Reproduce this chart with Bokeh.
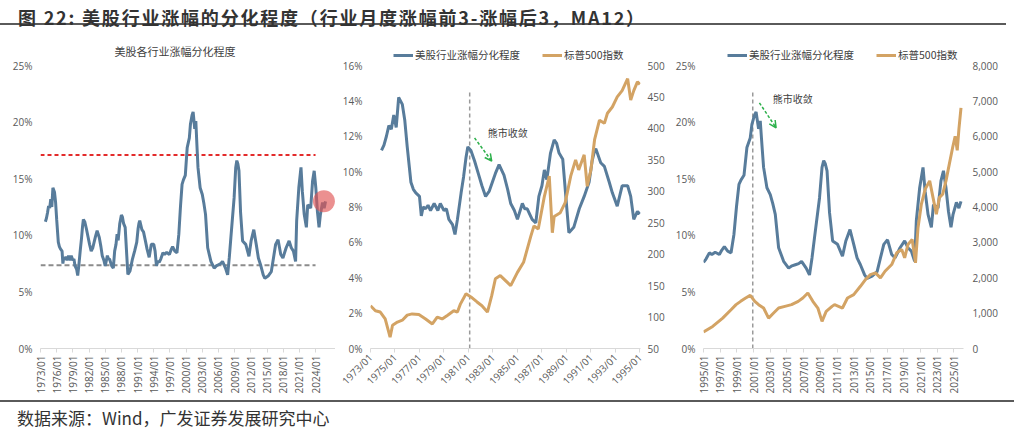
import math
from bokeh.plotting import figure
from bokeh.layouts import column, row
from bokeh.models import (Range1d, LinearAxis, FixedTicker, PrintfTickFormatter,
                          NumeralTickFormatter, Legend, LegendItem, Label, Arrow,
                          OpenHead, Div)
from bokeh.embed import file_html
from bokeh.resources import INLINE

# 行业月度涨幅前3-涨幅后3 的分化程度 (MA12, %)
div_years = [
    1973.9, 1974.1, 1974.3, 1974.5, 1974.7, 1974.9, 1975.1, 1975.3, 1975.45, 1975.6,
    1975.8, 1976.0, 1976.3, 1976.5, 1976.7, 1977.0, 1977.15, 1977.3, 1977.5, 1977.7,
    1977.9, 1978.2, 1978.5, 1978.7, 1979.0, 1979.2, 1979.4, 1979.7, 1979.9, 1980.1,
    1980.4, 1980.6, 1980.8, 1980.95, 1981.2, 1981.5, 1981.8, 1982.1, 1982.4, 1982.7,
    1983.0, 1983.2, 1983.5, 1983.9, 1984.2, 1984.45, 1984.75, 1985.0, 1985.4, 1985.6,
    1985.8, 1986.2, 1986.5, 1986.75, 1987.0, 1987.2, 1987.4, 1987.7, 1988.0, 1988.2,
    1988.4, 1988.7, 1988.95, 1989.2, 1989.6, 1990.05, 1990.45, 1990.85, 1991.1, 1991.25,
    1991.4, 1991.8, 1992.1, 1992.5, 1992.75, 1993.15, 1993.55, 1994.0, 1994.25, 1994.5,
    1994.8, 1995.0, 1995.3, 1995.7, 1996.0, 1996.4, 1996.9, 1997.2, 1997.5, 1997.9,
    1998.3, 1998.65, 1998.95, 1999.25, 1999.5, 1999.85, 2000.2, 2000.6, 2000.8, 2001.1,
    2001.3, 2001.6, 2001.8, 2002.0, 2002.2, 2002.6, 2003.0, 2003.3, 2003.6, 2004.0,
    2004.3, 2004.6, 2005.2, 2005.6, 2006.0, 2006.4, 2006.75, 2007.3, 2007.7, 2008.0,
    2008.3, 2008.9, 2009.2, 2009.4, 2009.6, 2009.8, 2010.1, 2010.47, 2011.06, 2011.65,
    2012.05, 2012.55, 2013.0, 2013.4, 2013.8, 2014.3, 2014.6, 2015.2, 2015.8, 2016.2,
    2016.6, 2017.05, 2017.55, 2017.95, 2018.55, 2019.1, 2019.5, 2019.9, 2020.3, 2020.5,
    2020.9, 2021.3, 2021.55, 2021.9, 2022.3, 2022.55, 2023.1, 2023.45, 2023.75, 2024.05,
    2024.35, 2024.65, 2024.9, 2025.3, 2025.6, 2025.85,
]
div_values = [
    11.2, 11.5, 12.0, 12.6, 12.4, 13.2, 12.5, 14.2, 14.0, 13.8,
    12.9, 11.4, 9.4, 9.0, 8.8, 8.6, 7.5, 8.0, 7.9, 8.1,
    7.8, 8.2, 7.8, 8.2, 7.8, 7.9, 7.3, 7.0, 6.45, 7.3,
    8.8, 9.7, 10.8, 11.4, 11.2, 10.6, 9.9, 9.2, 8.6, 8.9,
    9.5, 9.9, 10.4, 9.8, 9.0, 8.2, 7.8, 7.3, 8.2, 7.9,
    7.9, 7.3, 7.1, 8.6, 9.2, 10.1, 9.55, 11.05, 11.8, 11.6,
    11.05, 10.7, 8.6, 6.55, 6.85, 7.9, 8.6, 9.4, 10.6, 11.05,
    11.3, 10.5, 10.3, 9.4, 8.8, 8.05, 9.2, 9.2, 8.6, 7.3,
    7.75, 7.6, 7.9, 8.45, 8.3, 8.5, 8.3, 8.7, 9.0, 8.6,
    8.45, 10.1, 12.5, 14.5, 14.9, 15.3, 17.75, 18.6, 19.8, 20.6,
    20.9, 19.4, 20.1, 18.0, 16.0, 14.2, 13.6, 12.8, 11.85, 8.9,
    8.3, 7.7, 7.1, 7.3, 7.4, 7.5, 7.7, 7.1, 6.5, 8.0,
    9.8, 13.3, 16.0, 16.6, 16.3, 15.7, 12.0, 9.5, 9.2, 8.15,
    9.5, 10.5, 9.2, 8.0, 7.4, 6.5, 6.2, 6.4, 6.8, 8.0,
    9.2, 9.6, 8.3, 8.0, 8.9, 9.5, 8.9, 8.6, 7.7, 11.3,
    14.2, 16.0, 13.9, 11.85, 10.7, 12.7, 12.4, 14.8, 15.7, 14.2,
    12.1, 10.7, 11.85, 12.9, 12.4, 13.0,
]

# 标普500指数
spx_years = [
    1973.0, 1973.4, 1973.8, 1974.2, 1974.6, 1974.8, 1975.2, 1975.6, 1976.0, 1976.4,
    1976.95, 1977.5, 1978.05, 1978.45, 1978.85, 1979.3, 1979.8, 1980.1, 1980.35, 1980.8,
    1981.2, 1981.7, 1982.1, 1982.55, 1982.9, 1983.2, 1983.6, 1984.45, 1985.0, 1985.5,
    1986.1, 1986.35, 1986.7, 1987.2, 1987.6, 1987.85, 1988.0, 1988.5, 1988.9, 1989.35,
    1989.75, 1990.0, 1990.45, 1990.7, 1991.0, 1991.3, 1991.7, 1992.1, 1992.35, 1992.75,
    1993.15, 1993.55, 1994.0, 1994.25, 1994.5, 1994.8, 1995.0, 1996.1, 1997.3, 1998.3,
    1998.9, 1999.45, 2000.05, 2000.6, 2001.15, 2001.6, 2002.2, 2002.8, 2003.4, 2004.0,
    2004.75, 2005.55, 2006.35, 2006.9, 2007.5, 2008.1, 2008.7, 2009.2, 2009.7, 2010.4,
    2010.7, 2011.65, 2012.25, 2013.0, 2013.8, 2014.4, 2015.0, 2015.6, 2016.2, 2016.75,
    2017.55, 2018.15, 2018.75, 2019.1, 2019.5, 2020.0, 2020.4, 2020.7, 2021.1, 2021.55,
    2022.1, 2022.5, 2022.9, 2023.25, 2023.65, 2024.05, 2024.45, 2024.85, 2025.15, 2025.4,
    2025.6, 2025.85,
]
spx_values = [
    118, 110, 108, 97, 68, 87, 92, 95, 103, 105,
    104, 97, 89, 100, 97, 103, 110, 108, 121, 137,
    132, 124, 118, 108, 134, 161, 166, 150, 171, 187,
    229, 245, 240, 292, 324, 234, 260, 266, 282, 324,
    350, 334, 358, 308, 334, 382, 413, 408, 424, 434,
    450, 460, 479, 445, 460, 474, 470, 624, 860, 1097,
    1240, 1333, 1427, 1503, 1333, 1240, 1144, 860, 1002, 1144,
    1191, 1240, 1333, 1427, 1569, 1333, 1144, 766, 1050, 1191,
    1240, 1144, 1427, 1522, 1759, 1948, 2090, 2137, 1995, 2184,
    2373, 2704, 2798, 2562, 2942, 3084, 2420, 3413, 4076, 4502,
    4738, 4264, 3793, 4264, 4360, 4738, 5211, 5682, 6000, 5600,
    6200, 6800,
]

p1_tick_labels = ["1973/01", "1976/01", "1979/01", "1982/01", "1985/01", "1988/01",
                  "1991/01", "1994/01", "1997/01", "2000/01", "2003/01", "2006/01",
                  "2009/01", "2012/01", "2015/01", "2018/01", "2021/01", "2024/01"]
p2_tick_labels = ["1973/01", "1975/01", "1977/01", "1979/01", "1981/01", "1983/01",
                  "1985/01", "1987/01", "1989/01", "1991/01", "1993/01", "1995/01"]
p3_tick_labels = ["1995/01", "1997/01", "1999/01", "2001/01", "2003/01", "2005/01",
                  "2007/01", "2009/01", "2011/01", "2013/01", "2015/01", "2017/01",
                  "2019/01", "2021/01", "2023/01", "2025/01"]

upper_band = 17.1   # 红色虚线
lower_band = 7.35   # 灰色虚线

FONT = "Noto Sans CJK SC"
NUM_FONT = "Open Sans"
BLUE = "#587C9B"
GOLD = "#D3A364"
GREY = "#595959"
AXIS = "#D9D9D9"
GREEN = "#2DB04B"
FIG_H = 364
TOP, BOTTOM = 12, 50
FRAME_H = FIG_H - TOP - BOTTOM
TICK_SPAN = 283          # pixels between the lowest and highest y tick
HEAD = FRAME_H / TICK_SPAN   # extra head room above the top tick (legend lives there)


def years_of(labels):
    return [int(s[:4]) for s in labels]


def window(xs, ys, a, b):
    keep = [(x, y) for x, y in zip(xs, ys) if a <= x <= b]
    return [k[0] for k in keep], [k[1] for k in keep]


def style_y(ax, ticks, fmt, standoff):
    ax.ticker = FixedTicker(ticks=ticks)
    ax.formatter = fmt
    ax.axis_line_color = None
    ax.major_tick_line_color = None
    ax.major_tick_out = 0
    ax.minor_tick_line_color = None
    ax.major_label_standoff = standoff
    ax.major_label_text_font = NUM_FONT
    ax.major_label_text_font_size = "10px"
    ax.major_label_text_color = GREY


def make_fig(width, xr, ymax, left, right, tick_labels, yticks, orient):
    p = figure(width=width, height=FIG_H, x_range=Range1d(*xr),
               y_range=Range1d(0, ymax * HEAD),
               output_backend="svg", toolbar_location=None, tools="",
               min_border_left=left, min_border_right=right,
               min_border_top=TOP, min_border_bottom=BOTTOM)
    p.xgrid.visible = False
    p.ygrid.visible = False
    p.outline_line_color = None
    xa = p.xaxis[0]
    xa.ticker = FixedTicker(ticks=years_of(tick_labels))
    xa.formatter = PrintfTickFormatter(format="%d/01")
    xa.axis_line_color = AXIS
    xa.major_tick_line_color = AXIS
    xa.major_tick_out = 4
    xa.major_tick_in = 0
    xa.minor_tick_line_color = None
    xa.major_label_orientation = orient
    xa.major_label_standoff = 3
    xa.major_label_text_font = NUM_FONT
    xa.major_label_text_font_size = "10px"
    xa.major_label_text_color = GREY
    style_y(p.yaxis[0], yticks, PrintfTickFormatter(format="%d%%"), 8)
    return p


def add_legend(p, r_div, r_spx, x_off):
    legend = Legend(items=[LegendItem(label="美股行业涨幅分化程度", renderers=[r_div]),
                           LegendItem(label="标普500指数", renderers=[r_spx])],
                    orientation="horizontal", location=(x_off, TICK_SPAN + 3),
                    border_line_color=None, background_fill_alpha=0,
                    label_text_font=FONT, label_text_font_size="10.5px",
                    label_text_color="#404040", glyph_width=20, glyph_height=12,
                    label_standoff=2, spacing=22, padding=0, margin=0)
    p.add_layout(legend)


def add_note(p, tx, ty, ax0, ay0, ax1, ay1):
    p.add_layout(Label(x=tx, y=ty, text="熊市收敛", text_font=FONT, text_font_size="10px",
                       text_color="#404040", text_align="center", text_baseline="middle"))
    p.add_layout(Arrow(end=OpenHead(size=7, line_color=GREEN, line_width=1.5),
                       x_start=ax0, y_start=ay0, x_end=ax1, y_end=ay1,
                       line_color=GREEN, line_width=1.5, line_dash="3 2"))


# ---- 左图：全样本 ----
p1 = make_fig(335, (1973, 2027.7), 25, 40, 0, p1_tick_labels,
              [0, 5, 10, 15, 20, 25], math.pi / 2)
p1.add_layout(Label(x=1997.95, y=26.25, text="美股各行业涨幅分化程度", text_font=FONT,
                    text_font_size="11px", text_color="#404040",
                    text_align="center", text_baseline="middle"))
p1_years = years_of(p1_tick_labels)
p1.segment(x0=p1_years[0], y0=upper_band, x1=p1_years[-1], y1=upper_band,
           line_color="#E32B2B", line_width=2, line_dash="4 3")
p1.segment(x0=p1_years[0], y0=lower_band, x1=p1_years[-1], y1=lower_band,
           line_color="#8C8C8C", line_width=2, line_dash="5 3")
p1.line(div_years, div_values, line_color=BLUE, line_width=3)
p1.scatter([div_years[-1] - 0.3], [div_values[-1]], size=22, fill_color="#E05555",
           fill_alpha=0.65, line_color=None)

# ---- 中图：1973-1995 ----
p2 = make_fig(337, (1973, 1995.05), 16, 35, 32, p2_tick_labels,
              [0, 2, 4, 6, 8, 10, 12, 14, 16], math.pi / 4)
p2.extra_y_ranges = {"spx": Range1d(50, 50 + 450 * HEAD)}
ax2 = LinearAxis(y_range_name="spx")
style_y(ax2, [50, 100, 150, 200, 250, 300, 350, 400, 450, 500],
        PrintfTickFormatter(format="%d"), 7)
p2.add_layout(ax2, "right")
p2.segment(x0=1981.1, y0=0, x1=1981.1, y1=14.6, line_color="#9A9A9A",
           line_width=1.5, line_dash="4 3")
dx, dy = window(div_years, div_values, 1973, 1995.05)
sx, sy = window(spx_years, spx_values, 1973, 1995.05)
r2a = p2.line(dx, dy, line_color=BLUE, line_width=3)
r2b = p2.line(sx, sy, line_color=GOLD, line_width=3, y_range_name="spx")
add_legend(p2, r2a, r2b, 23)
add_note(p2, 1984.2, 12.2, 1981.5, 11.9, 1982.9, 10.6)

# ---- 右图：1995-2025 ----
p3 = make_fig(352, (1995, 2026.15), 25, 27, 61, p3_tick_labels,
              [0, 5, 10, 15, 20, 25], math.pi / 2)
p3.extra_y_ranges = {"spx": Range1d(0, 8000 * HEAD)}
ax3 = LinearAxis(y_range_name="spx")
style_y(ax3, [0, 1000, 2000, 3000, 4000, 5000, 6000, 7000, 8000],
        NumeralTickFormatter(format="0,0"), 9)
p3.add_layout(ax3, "right")
p3.segment(x0=2000.9, y0=0, x1=2000.9, y1=22.8, line_color="#9A9A9A",
           line_width=1.5, line_dash="4 3")
dx, dy = window(div_years, div_values, 1995, 2026.15)
sx, sy = window(spx_years, spx_values, 1995, 2026.15)
r3a = p3.line(dx, dy, line_color=BLUE, line_width=3)
r3b = p3.line(sx, sy, line_color=GOLD, line_width=3, y_range_name="spx")
add_legend(p3, r3a, r3b, 24)
add_note(p3, 2005.7, 22.05, 2001.7, 21.7, 2003.7, 19.5)

title = Div(text=('<div style="width:1006px;height:25px;border-bottom:2px solid #5a5a5a;'
                  'padding-top:7px;padding-left:18px;line-height:20px;'
                  'font-family:\'Noto Sans CJK SC\';font-size:18px;font-weight:bold;'
                  'letter-spacing:1.8px;color:#333;white-space:nowrap;">'
                  '图 22: 美股行业涨幅的分化程度（行业月度涨幅前3-涨幅后3，MA12）</div>'),
            width=1024, height=34, margin=0)
footer = Div(text=('<div style="width:1014px;margin-top:2px;border-top:2px solid #5a5a5a;'
                   'padding-top:6px;padding-left:17px;line-height:20px;'
                   'font-family:\'Noto Sans CJK SC\';font-size:17px;color:#333;'
                   'white-space:nowrap;">数据来源：Wind，广发证券发展研究中心</div>'),
             width=1024, height=35, margin=0)

layout = column(title, row(p1, p2, p3), footer)
open("out.html", "w").write(file_html(layout, INLINE))
